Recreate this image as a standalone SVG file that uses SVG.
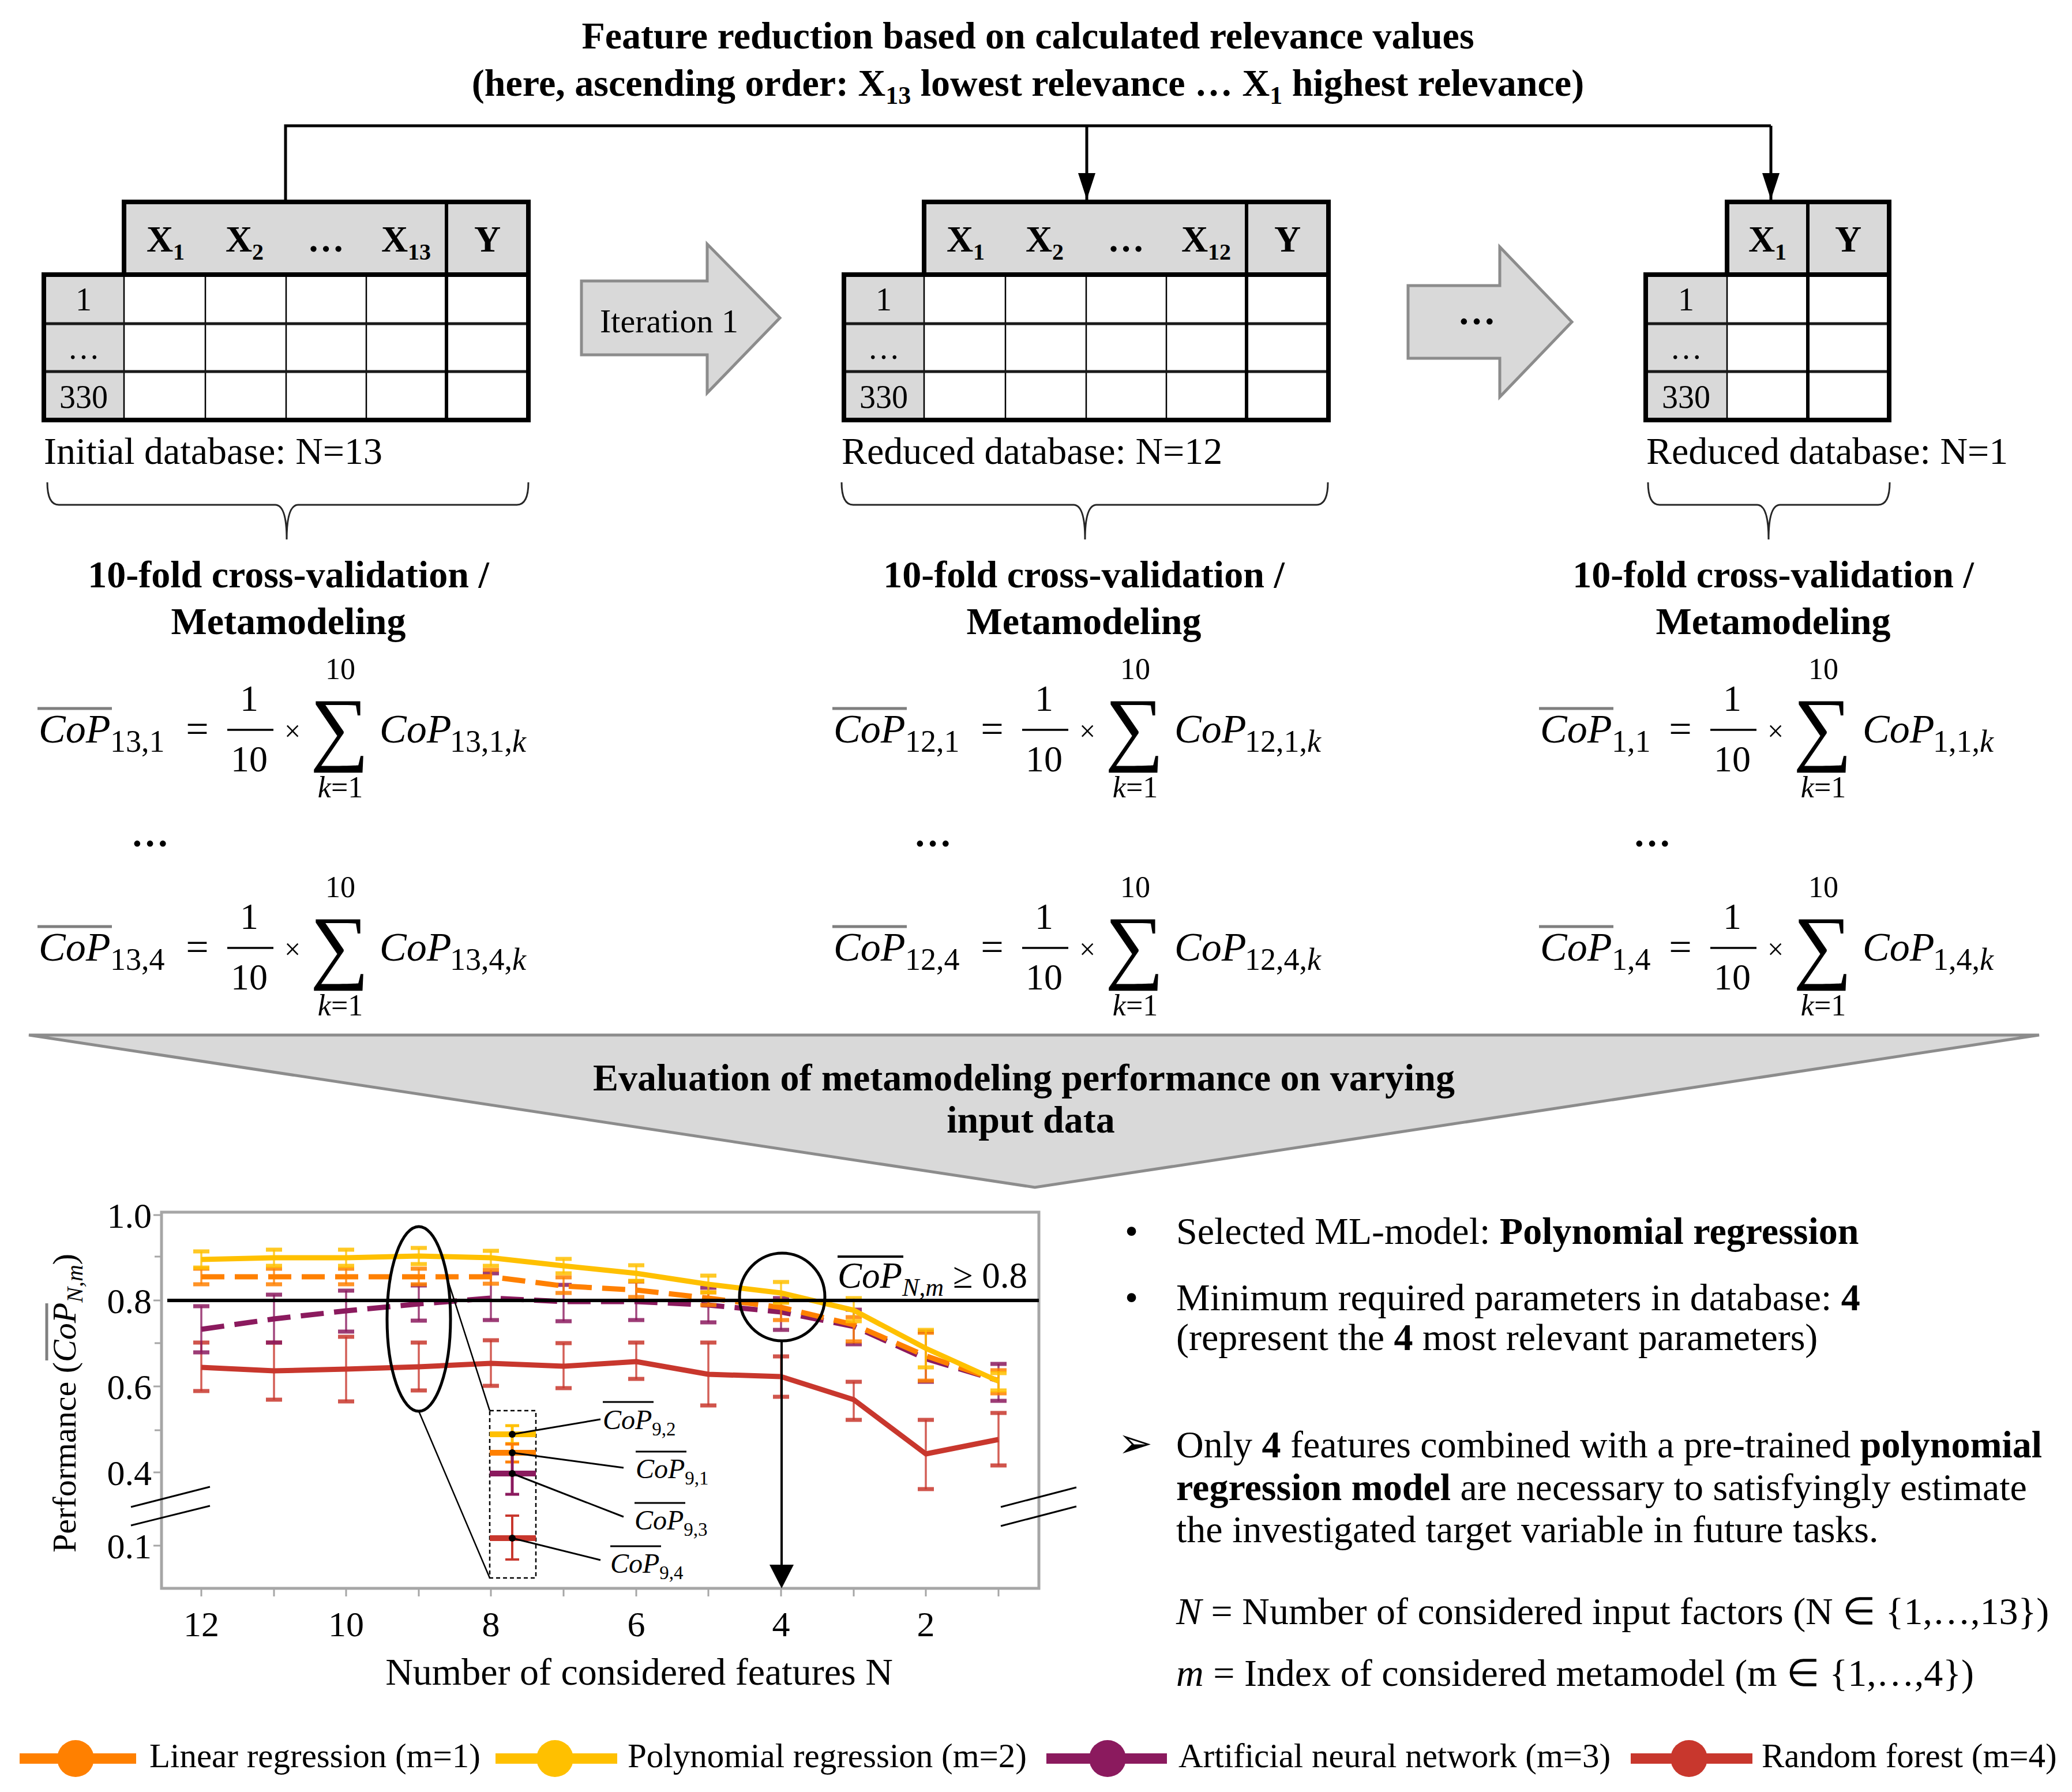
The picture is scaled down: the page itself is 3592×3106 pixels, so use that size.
<svg xmlns="http://www.w3.org/2000/svg" width="3592" height="3106" viewBox="0 0 3592 3106">
<defs>
<style>
text{font-family:"Liberation Serif","Times New Roman",serif;fill:#000}
.f66{font-size:66px}
.b{font-weight:bold}
.hd{font-size:64px;font-weight:bold}
.idx{font-size:56px}
.mi{font-size:70px;font-style:italic}
.msub{font-size:54px}
.mn{font-size:64px}
.lim{font-size:52px}
.ovl{stroke:#7f7f7f;stroke-width:5}
.fbar{stroke:#000;stroke-width:3.5}
.thick{fill:none;stroke:#000;stroke-width:8}
.yd{stroke:#000;stroke-width:6}
.row{stroke:#1a1a1a;stroke-width:5}
.col{stroke:#000;stroke-width:2.5}
.brace{fill:none;stroke:#262626;stroke-width:3}
.blk{fill:#d9d9d9;stroke:#8c8c8c;stroke-width:5}
.tick{font-family:"DejaVu Serif",serif;font-size:62px}
.eb{fill:none;stroke-width:3.5}
.cap{fill:none;stroke-width:7}
.yl{stroke:#FFC000}
.ol{stroke:#FF8000}
.pl{stroke:#8B1A5E}
.rl{stroke:#C8372D}
.ln{fill:none;stroke-width:9;stroke-linejoin:round}
.leg{font-size:59px}
</style>
<marker id="ah" viewBox="0 0 30 46" refX="15" refY="46" markerWidth="30" markerHeight="46" markerUnits="userSpaceOnUse" orient="0">
<path d="M0,0 L30,0 L15,46 z" fill="#000"/>
</marker>
</defs>
<rect width="3592" height="3106" fill="#fff"/>

<g id="title">
<text x="1782" y="84" text-anchor="middle" class="f66 b">Feature reduction based on calculated relevance values</text>
<text x="1782" y="166" text-anchor="middle" class="f66 b">(here, ascending order: X<tspan font-size="44" dy="14">13</tspan><tspan dy="-14"> lowest relevance … X</tspan><tspan font-size="44" dy="14">1</tspan><tspan dy="-14"> highest relevance)</tspan></text>
</g>

<g id="connectors" fill="none" stroke="#000" stroke-width="5">
<path d="M495,350 V218 H3070"/>
<path d="M1884,218 V346" marker-end="url(#ah)"/>
<path d="M3070,218 V346" marker-end="url(#ah)"/>
</g>

<g id="table1">
<rect x="215" y="350" width="701" height="126" fill="#d9d9d9"/>
<rect x="76" y="476" width="139" height="252" fill="#d9d9d9"/>
<rect x="215" y="476" width="701" height="252" fill="#fff"/>
<path class="col" d="M215,476V728 M356,476V728 M496,476V728 M635,476V728"/>
<path class="row" d="M76,561H916 M76,644H916"/>
<path class="yd" d="M774,350V728"/>
<path class="thick" d="M215,476 V350 H916 V728 H76 V476 H916"/>
<text x="287" y="436" text-anchor="middle" class="hd">X<tspan font-size="40" dy="14">1</tspan></text>
<text x="424" y="436" text-anchor="middle" class="hd">X<tspan font-size="40" dy="14">2</tspan></text>
<text x="565" y="436" text-anchor="middle" class="hd">…</text>
<text x="704" y="436" text-anchor="middle" class="hd">X<tspan font-size="40" dy="14">13</tspan></text>
<text x="845" y="436" text-anchor="middle" class="hd">Y</text>
<text x="145" y="538" text-anchor="middle" class="idx">1</text>
<text x="145" y="622" text-anchor="middle" class="idx">…</text>
<text x="145" y="707" text-anchor="middle" class="idx">330</text>
</g>

<g id="table2" transform="translate(1387,0)">
<rect x="215" y="350" width="701" height="126" fill="#d9d9d9"/>
<rect x="76" y="476" width="139" height="252" fill="#d9d9d9"/>
<rect x="215" y="476" width="701" height="252" fill="#fff"/>
<path class="col" d="M215,476V728 M356,476V728 M496,476V728 M635,476V728"/>
<path class="row" d="M76,561H916 M76,644H916"/>
<path class="yd" d="M774,350V728"/>
<path class="thick" d="M215,476 V350 H916 V728 H76 V476 H916"/>
<text x="287" y="436" text-anchor="middle" class="hd">X<tspan font-size="40" dy="14">1</tspan></text>
<text x="424" y="436" text-anchor="middle" class="hd">X<tspan font-size="40" dy="14">2</tspan></text>
<text x="565" y="436" text-anchor="middle" class="hd">…</text>
<text x="704" y="436" text-anchor="middle" class="hd">X<tspan font-size="40" dy="14">12</tspan></text>
<text x="845" y="436" text-anchor="middle" class="hd">Y</text>
<text x="145" y="538" text-anchor="middle" class="idx">1</text>
<text x="145" y="622" text-anchor="middle" class="idx">…</text>
<text x="145" y="707" text-anchor="middle" class="idx">330</text>
</g>

<g id="table3">
<rect x="2994" y="350" width="281" height="126" fill="#d9d9d9"/>
<rect x="2853" y="476" width="141" height="252" fill="#d9d9d9"/>
<rect x="2994" y="476" width="281" height="252" fill="#fff"/>
<path class="col" d="M2994,476V728"/>
<path class="row" d="M2853,561H3275 M2853,644H3275"/>
<path class="yd" d="M3134,350V728"/>
<path class="thick" d="M2994,476 V350 H3275 V728 H2853 V476 H3275"/>
<text x="3064" y="436" text-anchor="middle" class="hd">X<tspan font-size="40" dy="14">1</tspan></text>
<text x="3204" y="436" text-anchor="middle" class="hd">Y</text>
<text x="2923" y="538" text-anchor="middle" class="idx">1</text>
<text x="2923" y="622" text-anchor="middle" class="idx">…</text>
<text x="2923" y="707" text-anchor="middle" class="idx">330</text>
</g>

<g id="arrow-iteration1">
<polygon class="blk" points="1008,487 1226,487 1226,423 1352,551 1226,681 1226,615 1008,615"/>
<text x="1160" y="576" text-anchor="middle" style="font-size:58px">Iteration 1</text>
</g>
<g id="arrow-dots">
<polygon class="blk" points="2441,495 2600,495 2600,428 2725,558 2600,688 2600,621 2441,621"/>
<text x="2560" y="562" text-anchor="middle" class="f66 b">…</text>
</g>

<g id="labels-db">
<text x="76" y="804" class="f66">Initial database: N=13</text>
<text x="1459" y="804" class="f66">Reduced database: N=12</text>
<text x="2854" y="804" class="f66">Reduced database: N=1</text>
<path class="brace" d="M82,836 Q82,875 102,875 H477 Q497,875 497,935 M916,836 Q916,875 896,875 H517 Q497,875 497,935"/>
<path class="brace" d="M1459,836 Q1459,875 1479,875 H1861 Q1881,875 1881,935 M2302,836 Q2302,875 2282,875 H1901 Q1881,875 1881,935"/>
<path class="brace" d="M2857,836 Q2857,875 2877,875 H3046 Q3066,875 3066,935 M3276,836 Q3276,875 3256,875 H3086 Q3066,875 3066,935"/>
</g>

<g id="cv1">
<text x="500" y="1018" text-anchor="middle" class="f66 b">10-fold cross-validation /</text>
<text x="500" y="1099" text-anchor="middle" class="f66 b">Metamodeling</text>
</g>
<g id="cv2">
<text x="1879" y="1018" text-anchor="middle" class="f66 b">10-fold cross-validation /</text>
<text x="1879" y="1099" text-anchor="middle" class="f66 b">Metamodeling</text>
</g>
<g id="cv3">
<text x="3074" y="1018" text-anchor="middle" class="f66 b">10-fold cross-validation /</text>
<text x="3074" y="1099" text-anchor="middle" class="f66 b">Metamodeling</text>
</g>

<defs>
<g id="frmR">
<text x="342" y="1287" text-anchor="middle" style="font-size:70px">=</text>
<text x="432" y="1232" text-anchor="middle" class="mn">1</text>
<line x1="394" y1="1265" x2="474" y2="1265" class="fbar"/>
<text x="432" y="1337" text-anchor="middle" class="mn">10</text>
<text x="507" y="1284" text-anchor="middle" style="font-size:50px">×</text>
<text x="589" y="1309" text-anchor="middle" style="font-size:143px">∑</text>
<text x="590" y="1177" text-anchor="middle" class="lim">10</text>
<text x="590" y="1382" text-anchor="middle" class="lim"><tspan font-style="italic">k</tspan>=1</text>
<text x="658" y="1287" class="mi">CoP</text>
</g>
</defs>

<g id="formula-13-1">
<line x1="65" y1="1228" x2="194" y2="1228" class="ovl"/>
<text x="67" y="1287" class="mi">CoP</text>
<text x="191" y="1303" class="msub">13,1</text>
<use href="#frmR"/>
<text x="780" y="1303" class="msub">13,1,<tspan font-style="italic">k</tspan></text>
</g>
<g id="formula-13-4" transform="translate(0,378)">
<line x1="65" y1="1228" x2="194" y2="1228" class="ovl"/>
<text x="67" y="1287" class="mi">CoP</text>
<text x="191" y="1303" class="msub">13,4</text>
<use href="#frmR"/>
<text x="780" y="1303" class="msub">13,4,<tspan font-style="italic">k</tspan></text>
</g>
<g id="formula-12-1" transform="translate(1378,0)">
<line x1="65" y1="1228" x2="194" y2="1228" class="ovl"/>
<text x="67" y="1287" class="mi">CoP</text>
<text x="191" y="1303" class="msub">12,1</text>
<use href="#frmR"/>
<text x="780" y="1303" class="msub">12,1,<tspan font-style="italic">k</tspan></text>
</g>
<g id="formula-12-4" transform="translate(1378,378)">
<line x1="65" y1="1228" x2="194" y2="1228" class="ovl"/>
<text x="67" y="1287" class="mi">CoP</text>
<text x="191" y="1303" class="msub">12,4</text>
<use href="#frmR"/>
<text x="780" y="1303" class="msub">12,4,<tspan font-style="italic">k</tspan></text>
</g>
<g id="formula-1-1">
<line x1="2668" y1="1228" x2="2797" y2="1228" class="ovl"/>
<text x="2670" y="1287" class="mi">CoP</text>
<text x="2794" y="1303" class="msub">1,1</text>
<use href="#frmR" transform="translate(2571,0)"/>
<text x="3351" y="1303" class="msub">1,1,<tspan font-style="italic">k</tspan></text>
</g>
<g id="formula-1-4" transform="translate(0,378)">
<line x1="2668" y1="1228" x2="2797" y2="1228" class="ovl"/>
<text x="2670" y="1287" class="mi">CoP</text>
<text x="2794" y="1303" class="msub">1,4</text>
<use href="#frmR" transform="translate(2571,0)"/>
<text x="3351" y="1303" class="msub">1,4,<tspan font-style="italic">k</tspan></text>
</g>
<g id="formula-dots">
<text x="260" y="1467" text-anchor="middle" class="f66 b">…</text>
<text x="1617" y="1467" text-anchor="middle" class="f66 b">…</text>
<text x="2864" y="1467" text-anchor="middle" class="f66 b">…</text>
</g>

<g id="evaluation">
<polygon class="blk" points="50,1794 3535,1794 1794,2058"/>
<text x="1775" y="1890" text-anchor="middle" class="f66 b">Evaluation of metamodeling performance on varying</text>
<text x="1787" y="1963" text-anchor="middle" class="f66 b">input data</text>
</g>

<g id="chart">
<rect x="280" y="2101" width="1521" height="652" fill="#fff" stroke="#a6a6a6" stroke-width="5"/>
<path stroke="#a6a6a6" stroke-width="3" d="M266,2106H280 M268,2178H280 M266,2254H280 M268,2328H280 M266,2403H280 M268,2479H280 M266,2552H280 M266,2679H280 M349,2753V2767 M475,2753V2767 M600,2753V2767 M726,2753V2767 M851,2753V2767 M977,2753V2767 M1103,2753V2767 M1228,2753V2767 M1354,2753V2767 M1480,2753V2767 M1605,2753V2767 M1731,2753V2767"/>
<g class="tick" text-anchor="end">
<text x="263" y="2128">1.0</text>
<text x="263" y="2276">0.8</text>
<text x="263" y="2425">0.6</text>
<text x="263" y="2574">0.4</text>
<text x="263" y="2701">0.1</text>
</g>
<g class="tick" text-anchor="middle">
<text x="349" y="2836">12</text>
<text x="600" y="2836">10</text>
<text x="851" y="2836">8</text>
<text x="1103" y="2836">6</text>
<text x="1354" y="2836">4</text>
<text x="1605" y="2836">2</text>
</g>
<text x="1108" y="2920" text-anchor="middle" class="f66">Number of considered features N</text>
<g transform="translate(131,2691) rotate(-90)">
<text x="0" y="0" style="font-size:58px">Performance (<tspan font-style="italic">CoP</tspan><tspan font-style="italic" font-size="40" dy="12">N,m</tspan><tspan dy="-12">)</tspan></text>
<line x1="333" y1="-50" x2="432" y2="-50" class="ovl"/>
</g>
<path stroke="#000" stroke-width="3" d="M227,2612L364,2577 M227,2644L364,2610 M1735,2612L1866,2578 M1735,2645L1866,2611"/>

<g id="series-rf" class="rl">
<path class="eb" d="M349,2327V2411M475,2327V2426M600,2317V2429M726,2327V2410M851,2323V2402M977,2328V2406M1103,2327V2390M1228,2327V2436M1354,2351V2421M1480,2395V2461M1605,2461V2581M1731,2449V2540" stroke-opacity="0.8"/>
<path class="cap" d="M335,2327h28M335,2411h28M461,2327h28M461,2426h28M586,2317h28M586,2429h28M712,2327h28M712,2410h28M837,2323h28M837,2402h28M963,2328h28M963,2406h28M1089,2327h28M1089,2390h28M1214,2327h28M1214,2436h28M1340,2351h28M1340,2421h28M1466,2395h28M1466,2461h28M1591,2461h28M1591,2581h28M1717,2449h28M1717,2540h28" stroke-opacity="0.85"/>
<polyline class="ln" points="349,2370 475,2376 600,2373 726,2369 851,2363 977,2368 1103,2360 1228,2382 1354,2386 1480,2426 1605,2520 1731,2495"/>
</g>
<g id="series-ann" class="pl">
<path class="eb" d="M349,2264V2344M475,2244V2327M600,2237V2308M726,2228V2289M851,2207V2288M977,2227V2290M1103,2221V2288M1228,2232V2292M1354,2250V2305M1480,2270V2330M1605,2308V2395M1731,2364V2428" stroke-opacity="0.8"/>
<path class="cap" d="M335,2264h28M335,2344h28M461,2244h28M461,2327h28M586,2237h28M586,2308h28M712,2228h28M712,2289h28M837,2207h28M837,2288h28M963,2227h28M963,2290h28M1089,2221h28M1089,2288h28M1214,2232h28M1214,2292h28M1340,2250h28M1340,2305h28M1466,2270h28M1466,2330h28M1591,2308h28M1591,2395h28M1717,2364h28M1717,2428h28" stroke-opacity="0.85"/>
<polyline class="ln" stroke-dasharray="40 18" points="349,2304 475,2286 600,2272 726,2260 851,2250 977,2256 1103,2256 1228,2262 1354,2274 1480,2299 1605,2355 1731,2393"/>
</g>
<g id="series-lin" class="ol">
<path class="eb" d="M349,2199V2226M475,2199V2226M600,2199V2226M726,2199V2226M851,2201V2225M977,2214V2241M1103,2221V2248M1228,2240V2262M1354,2256V2288M1480,2283V2325M1605,2310V2393M1731,2375V2415" stroke-opacity="0.8"/>
<path class="cap" d="M335,2199h28M335,2226h28M461,2199h28M461,2226h28M586,2199h28M586,2226h28M712,2199h28M712,2226h28M837,2201h28M837,2225h28M963,2214h28M963,2241h28M1089,2221h28M1089,2248h28M1214,2240h28M1214,2262h28M1340,2256h28M1340,2288h28M1466,2283h28M1466,2325h28M1591,2310h28M1591,2393h28M1717,2375h28M1717,2415h28" stroke-opacity="0.85"/>
<polyline class="ln" stroke-dasharray="40 18" points="349,2213 475,2213 600,2213 726,2213 851,2213 977,2229 1103,2236 1228,2250 1354,2266 1480,2296 1605,2350 1731,2393"/>
</g>
<g id="series-poly" class="yl">
<path class="eb" d="M349,2169V2197M475,2166V2194M600,2166V2194M726,2163V2191M851,2168V2194M977,2182V2207M1103,2193V2220M1228,2211V2240M1354,2222V2258M1480,2250V2290M1605,2305V2370M1731,2380V2410" stroke-opacity="0.8"/>
<path class="cap" d="M335,2169h28M335,2197h28M461,2166h28M461,2194h28M586,2166h28M586,2194h28M712,2163h28M712,2191h28M837,2168h28M837,2194h28M963,2182h28M963,2207h28M1089,2193h28M1089,2220h28M1214,2211h28M1214,2240h28M1340,2222h28M1340,2258h28M1466,2250h28M1466,2290h28M1591,2305h28M1591,2370h28M1717,2380h28M1717,2410h28" stroke-opacity="0.85"/>
<polyline class="ln" points="349,2183 475,2180 600,2180 726,2177 851,2180 977,2194 1103,2207 1228,2226 1354,2241 1480,2271 1605,2337 1731,2394"/>
</g>

<line x1="290" y1="2254" x2="1801" y2="2254" stroke="#000" stroke-width="6"/>
<line x1="1452" y1="2178" x2="1566" y2="2178" stroke="#000" stroke-width="4"/>
<text x="1452" y="2232" style="font-size:63px"><tspan font-style="italic">CoP</tspan><tspan font-style="italic" font-size="44" dy="14">N,m</tspan><tspan dy="-14"> ≥ 0.8</tspan></text>

<ellipse cx="726" cy="2286" rx="55" ry="160" fill="none" stroke="#000" stroke-width="5"/>
<ellipse cx="1356" cy="2248" rx="74" ry="76" fill="none" stroke="#000" stroke-width="5"/>
<line x1="1355" y1="2324" x2="1355" y2="2716" stroke="#000" stroke-width="4"/>
<polygon points="1334,2712 1376,2712 1355,2753" fill="#000"/>

<path d="M777,2221 L849,2445 M726,2446 L849,2735" stroke="#000" stroke-width="2.5" fill="none"/>
<rect x="849" y="2445" width="80" height="290" fill="none" stroke="#000" stroke-width="2.5" stroke-dasharray="7 5"/>
<g id="zoom-detail">
<path d="M849,2486H929" stroke="#FFC000" stroke-width="10"/>
<path d="M888,2471V2502M876,2471h24M876,2502h24" stroke="#FFC000" stroke-width="5"/>
<path d="M849,2518H929" stroke="#FF8000" stroke-width="10"/>
<path d="M888,2503V2534M876,2503h24M876,2534h24" stroke="#FF8000" stroke-width="5"/>
<path d="M849,2554H929" stroke="#8B1A5E" stroke-width="10"/>
<path d="M888,2522V2590M876,2590h24" stroke="#8B1A5E" stroke-width="5"/>
<path d="M849,2666H929" stroke="#C8372D" stroke-width="10"/>
<path d="M888,2627V2703M876,2627h24M876,2703h24" stroke="#C8372D" stroke-width="4"/>
<g fill="#000"><circle cx="888" cy="2486" r="6"/><circle cx="888" cy="2518" r="6"/><circle cx="888" cy="2554" r="6"/><circle cx="888" cy="2666" r="6"/></g>
<path d="M888,2486L1041,2460 M888,2518L1081,2544 M888,2554L1081,2629 M888,2666L1041,2704" stroke="#000" stroke-width="3" fill="none"/>
<g style="font-size:48px">
<line x1="1045" y1="2430" x2="1133" y2="2430" stroke="#000" stroke-width="3"/>
<text x="1045" y="2477"><tspan font-style="italic">CoP</tspan><tspan font-size="33" dy="11">9,2</tspan></text>
<line x1="1102" y1="2516" x2="1190" y2="2516" stroke="#000" stroke-width="3"/>
<text x="1102" y="2562"><tspan font-style="italic">CoP</tspan><tspan font-size="33" dy="11">9,1</tspan></text>
<line x1="1100" y1="2605" x2="1188" y2="2605" stroke="#000" stroke-width="3"/>
<text x="1100" y="2651"><tspan font-style="italic">CoP</tspan><tspan font-size="33" dy="11">9,3</tspan></text>
<line x1="1058" y1="2680" x2="1146" y2="2680" stroke="#000" stroke-width="3"/>
<text x="1058" y="2726"><tspan font-style="italic">CoP</tspan><tspan font-size="33" dy="11">9,4</tspan></text>
</g>
</g>
</g>

<g id="conclusions" class="f66">
<text x="1950" y="2156">•</text>
<text x="2039" y="2156">Selected ML-model: <tspan class="b">Polynomial regression</tspan></text>
<text x="1950" y="2271">•</text>
<text x="2039" y="2271">Minimum required parameters in database: <tspan class="b">4</tspan></text>
<text x="2039" y="2340">(represent the <tspan class="b">4</tspan> most relevant parameters)</text>
<text x="1938" y="2526" style="font-family:'DejaVu Sans',sans-serif;font-size:72px">➢</text>
<text x="2039" y="2526">Only <tspan class="b">4</tspan> features combined with a pre-trained <tspan class="b">polynomial</tspan></text>
<text x="2039" y="2600"><tspan class="b">regression model</tspan> are necessary to satisfyingly estimate</text>
<text x="2039" y="2673">the investigated target variable in future tasks.</text>
<text x="2039" y="2815"><tspan font-style="italic">N</tspan> = Number of considered input factors (N ∈ {1,…,13})</text>
<text x="2039" y="2922"><tspan font-style="italic">m</tspan> = Index of considered metamodel (m ∈ {1,…,4})</text>
</g>

<g id="legend">
<line x1="34" y1="3048" x2="236" y2="3048" stroke="#FF8000" stroke-width="18"/>
<circle cx="131" cy="3048" r="32" fill="#FF8000"/>
<text x="259" y="3063" class="leg">Linear regression (m=1)</text>
<line x1="859" y1="3048" x2="1070" y2="3048" stroke="#FFC000" stroke-width="18"/>
<circle cx="962" cy="3048" r="32" fill="#FFC000"/>
<text x="1088" y="3063" class="leg">Polynomial regression (m=2)</text>
<line x1="1814" y1="3048" x2="2023" y2="3048" stroke="#8B1A5E" stroke-width="18"/>
<circle cx="1920" cy="3048" r="32" fill="#8B1A5E"/>
<text x="2043" y="3063" class="leg">Artificial neural network (m=3)</text>
<line x1="2827" y1="3048" x2="3038" y2="3048" stroke="#C8372D" stroke-width="18"/>
<circle cx="2928" cy="3048" r="32" fill="#C8372D"/>
<text x="3054" y="3063" class="leg">Random forest (m=4)</text>
</g>
</svg>
